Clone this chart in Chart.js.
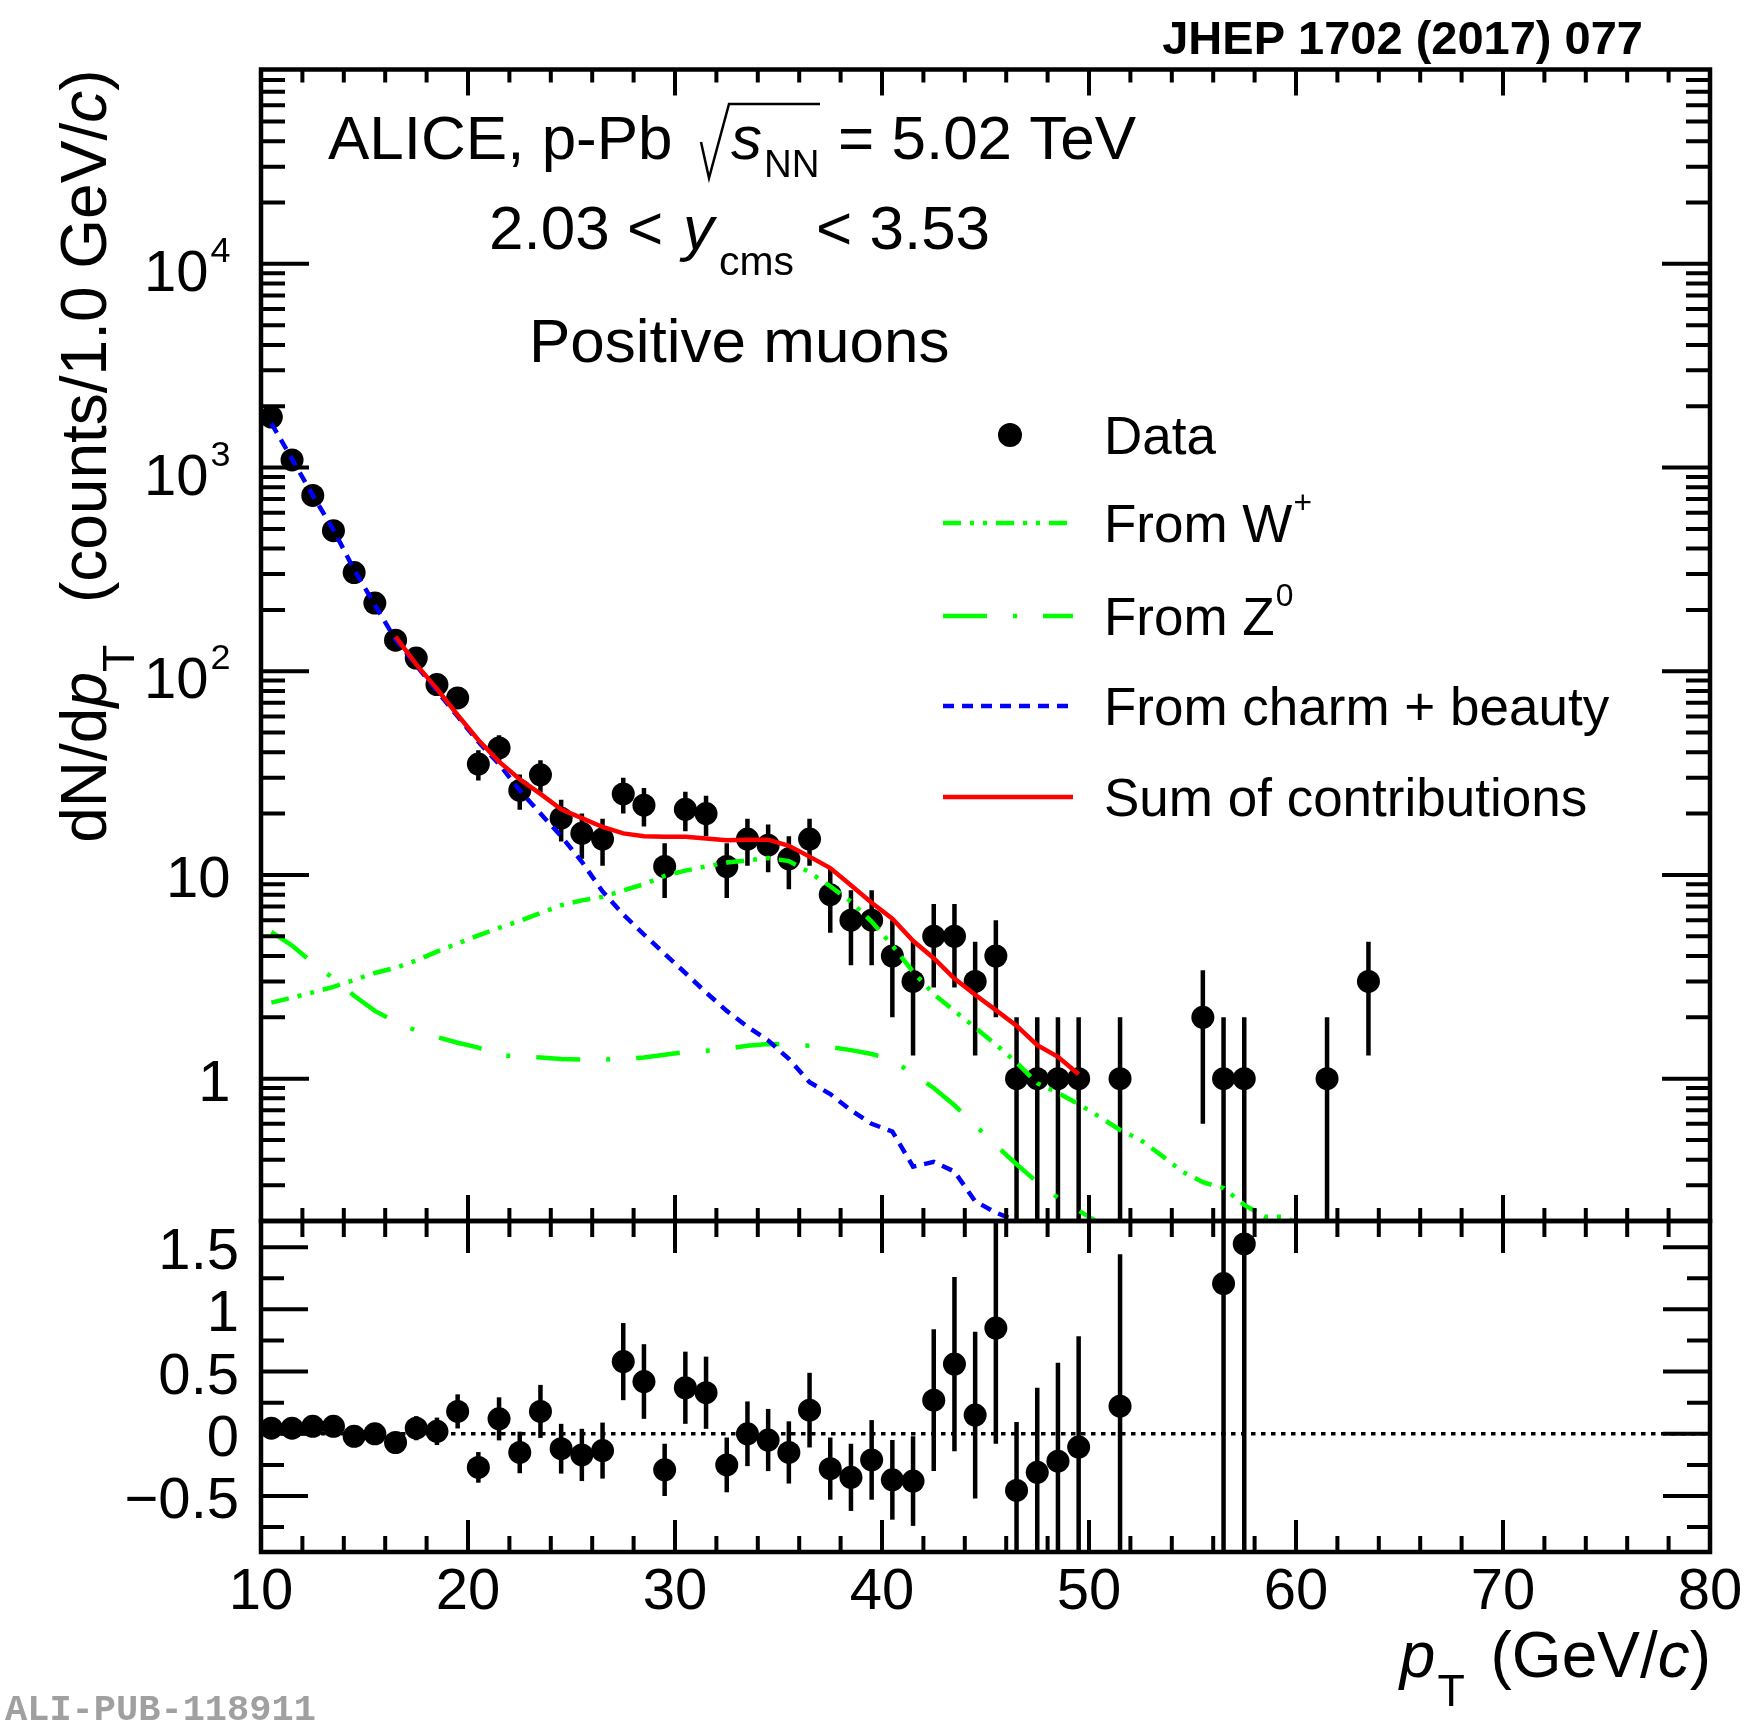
<!DOCTYPE html>
<html>
<head>
<meta charset="utf-8">
<title>Positive muons p-Pb</title>
<script src="https://cdn.jsdelivr.net/npm/chart.js@4.4.1/dist/chart.umd.min.js"></script>
<style>
  html, body { margin: 0; padding: 0; background: #fff; }
  #page { position: relative; width: 1757px; height: 1727px; background: #fff; }
  #page canvas { position: absolute; left: 0; top: 0; }
</style>
</head>
<body>
<div id="page">
  <canvas id="spectrum" width="1757" height="1727"></canvas>
  <canvas id="ratio" width="1757" height="1727"></canvas>
</div>
<script>
// ---------- DATA ----------

// measured spectrum (bin centres, counts, stat. errors)
var dataPt = [10.5, 11.5, 12.5, 13.5, 14.5, 15.5, 16.5, 17.5, 18.5, 19.5,
  20.5, 21.5, 22.5, 23.5, 24.5, 25.5, 26.5, 27.5, 28.5, 29.5,
  30.5, 31.5, 32.5, 33.5, 34.5, 35.5, 36.5, 37.5, 38.5, 39.5,
  40.5, 41.5, 42.5, 43.5, 44.5, 45.5, 46.5, 47.5, 48.5, 49.5,
  51.5, 55.5, 56.5, 57.5, 61.5, 63.5];
var dataCounts = [1770, 1090, 730, 490, 305, 216, 142, 116, 86, 74,
  35, 42, 26, 31, 19, 16, 15, 25, 22, 11,
  21, 20, 11, 15, 14, 12, 15, 8, 6, 6,
  4, 3, 5, 5, 3, 4, 1, 1, 1, 1,
  1, 2, 1, 1, 1, 3];
var dataErr = [42, 33, 27, 22, 17.5, 14.7, 11.9, 10.8, 9.3, 8.6,
  5.9, 6.5, 5.1, 5.6, 4.4, 4, 3.9, 5, 4.7, 3.3,
  4.6, 4.5, 3.3, 3.9, 3.7, 3.5, 3.9, 2.8, 2.4, 2.4,
  2, 1.7, 2.2, 2.2, 1.7, 2, 1, 1, 1, 1,
  1, 1.4, 1, 1, 1, 1.7];

// contributions
var wPt = [10.5, 11.5, 12.5, 13.5, 14.5, 15.5, 16.5, 17.5, 18.5, 19.5,
  20.5, 21.5, 22.5, 23.5, 24.5, 25.5, 26.5, 27.5, 28.5, 29.5,
  30.5, 31.5, 32.5, 33.5, 34.5, 35.5, 36.5, 37.5, 38.5, 39.5,
  40.5, 41.5, 42.5, 43.5, 44.5, 45.5, 46.5, 47.5, 48.5, 49.5,
  50.5, 51.5, 52.5, 53.5, 54.5, 55.5, 56.5, 57.5, 58.5, 59.5, 60.5];
var wVal = [2.36, 2.5, 2.65, 2.82, 3.05, 3.3, 3.5, 3.8, 4.2, 4.6,
  5.05, 5.5, 5.95, 6.5, 7.1, 7.5, 7.8, 8.4, 9.0, 9.9,
  10.5, 11.0, 11.5, 11.8, 12.1, 11.7, 10.3, 8.8, 7.4, 5.9,
  4.5, 3.35, 2.6, 2.15, 1.78, 1.47, 1.2, 0.95, 0.85, 0.75,
  0.65, 0.56, 0.5, 0.42, 0.35, 0.31, 0.29, 0.24, 0.21, 0.21, 0.18];

var zPt = [10.5, 11.5, 12.5, 13.5, 14.5, 15.5, 16.5, 17.5, 18.5, 19.5,
  20.5, 21.5, 22.5, 23.5, 24.5, 25.5, 26.5, 27.5, 28.5, 29.5,
  30.5, 31.5, 32.5, 33.5, 34.5, 35.5, 36.5, 37.5, 38.5, 39.5,
  40.5, 41.5, 42.5, 43.5, 44.5, 45.5, 46.5, 47.5, 48.5, 49.5, 50.5];
var zVal = [5.25, 4.5, 3.7, 3.1, 2.55, 2.15, 1.9, 1.72, 1.6, 1.5,
  1.42, 1.3, 1.29, 1.27, 1.25, 1.24, 1.24, 1.25, 1.27, 1.31,
  1.35, 1.37, 1.4, 1.45, 1.48, 1.47, 1.45, 1.43, 1.38, 1.32,
  1.24, 1.05, 0.9, 0.74, 0.59, 0.47, 0.38, 0.31, 0.26, 0.225, 0.195];

var hfPt = [10.5, 11.5, 12.5, 13.5, 14.5, 15.5, 16.5, 17.5, 18.5, 19.5,
  20.5, 21.5, 22.5, 23.5, 24.5, 25.5, 26.5, 27.5, 28.5, 29.5,
  30.5, 31.5, 32.5, 33.5, 34.5, 35.5, 36.5, 37.5, 38.5, 39.5,
  40.5, 41.5, 42.5, 43.5, 44.5, 45.5, 46.5, 47.5];
var hfVal = [1650, 1100, 730, 495, 315, 212, 143, 107, 80, 60,
  45, 35, 26, 20, 15.5, 11.6, 8.3, 6.4, 5.1, 4.1,
  3.3, 2.65, 2.15, 1.8, 1.54, 1.25, 0.96, 0.84, 0.70, 0.60,
  0.55, 0.37, 0.39, 0.35, 0.25, 0.22, 0.2, 0.17];

var sumPt = [16.5, 17.5, 18.5, 19.5, 20.5, 21.5, 22.5, 23.5, 24.5, 25.5,
  26.5, 27.5, 28.5, 29.5, 30.5, 31.5, 32.5, 33.5, 34.5, 35.5,
  36.5, 37.5, 38.5, 39.5, 40.5, 41.5, 42.5, 43.5, 44.5, 45.5,
  46.5, 47.5, 48.5, 49.5];
var sumVal = [148, 108, 82, 61, 46, 36, 29.5, 25, 21, 19,
  17.2, 16, 15.5, 15.4, 15.4, 15.1, 14.8, 14.9, 14.9, 13.9,
  12.3, 10.8, 8.9, 7.3, 6.1, 4.75, 3.9, 3.1, 2.58, 2.17,
  1.82, 1.46, 1.28, 1.05];

// (data - fit) / fit
var ratioPt = [10.5, 11.5, 12.5, 13.5, 14.5, 15.5, 16.5, 17.5, 18.5, 19.5,
  20.5, 21.5, 22.5, 23.5, 24.5, 25.5, 26.5, 27.5, 28.5, 29.5,
  30.5, 31.5, 32.5, 33.5, 34.5, 35.5, 36.5, 37.5, 38.5, 39.5,
  40.5, 41.5, 42.5, 43.5, 44.5, 45.5, 46.5, 47.5, 48.5, 49.5,
  51.5, 56.5, 57.5];
var ratioVal = [0.045, 0.045, 0.06, 0.06, -0.02, 0.0, -0.07, 0.045, 0.02, 0.18,
  -0.27, 0.12, -0.15, 0.18, -0.12, -0.17, -0.135, 0.58, 0.42, -0.29,
  0.37, 0.33, -0.25, 0.0, -0.05, -0.15, 0.19, -0.28, -0.35, -0.21,
  -0.37, -0.38, 0.27, 0.56, 0.15, 0.85, -0.455, -0.31, -0.22, -0.107,
  0.222, 1.207, 1.526];
var ratioErr = [0.025, 0.03, 0.04, 0.047, 0.056, 0.068, 0.079, 0.097, 0.11, 0.137,
  0.123, 0.173, 0.167, 0.213, 0.2, 0.21, 0.225, 0.31, 0.30, 0.21,
  0.29, 0.29, 0.22, 0.26, 0.25, 0.25, 0.30, 0.25, 0.27, 0.32,
  0.32, 0.36, 0.57, 0.70, 0.67, 0.93, 0.55, 0.68, 0.79, 0.89,
  1.22, 2.2, 2.5];

// axes
var xMajor = [10, 20, 30, 40, 50, 60, 70, 80];
var xLabels = ['10', '20', '30', '40', '50', '60', '70', '80'];
var yMajorTop = [1, 10, 100, 1000, 10000];
var yLabelTop = [['1', ''], ['10', ''], ['10', '2'], ['10', '3'], ['10', '4']];
var yMajorBot = [-0.5, 0, 0.5, 1, 1.5];
var yLabelBot = ['\u22120.5', '0', '0.5', '1', '1.5'];
var yMinorBot = [-0.75, -0.25, 0.25, 0.75, 1.25];


// ---------- HELPERS ----------

var FONT = '"Liberation Sans", Arial, Helvetica, sans-serif';
var GREEN = '#00ff00', BLUE = '#0000ff', RED = '#ff0000';
var DASH_W = [18, 9, 4, 9, 4, 9];
var DASH_Z = [44, 26, 4, 26];
var DASH_HF = [11, 8];
var CURVE_W = 4.5;

function pts(xs, ys) {
  return xs.map(function (x, i) { return { x: x, y: ys[i] }; });
}

function fontFor(p, size) {
  var s = size * (p.s || 1);
  return (p.b ? 'bold ' : '') + (p.i ? 'italic ' : '') + s + 'px ' + FONT;
}

function richWidth(ctx, parts, size) {
  var w = 0;
  parts.forEach(function (p) {
    ctx.font = fontFor(p, size);
    w += (p.gap || 0) + ctx.measureText(p.t).width;
  });
  return w;
}

// draws a run of text pieces (italic, sub/superscripts) along one baseline
function richText(ctx, parts, x, y, size, align) {
  var cx = align === 'right' ? x - richWidth(ctx, parts, size) : x;
  ctx.textAlign = 'left';
  ctx.textBaseline = 'alphabetic';
  parts.forEach(function (p) {
    ctx.font = fontFor(p, size);
    cx += p.gap || 0;
    ctx.fillText(p.t, cx, y + (p.dy || 0));
    cx += ctx.measureText(p.t).width;
  });
}

function drawFrame(chart, cfg) {
  var ctx = chart.ctx, a = chart.chartArea;
  var xs = chart.scales.x, ys = chart.scales.y;
  ctx.save();
  ctx.strokeStyle = '#000';
  ctx.lineWidth = 4;
  ctx.beginPath();
  for (var v = 12; v < 80; v += 2) {
    var px = xs.getPixelForValue(v);
    var len = (v % 10 === 0) ? cfg.xMajorLen : cfg.xMajorLen / 2;
    ctx.moveTo(px, a.bottom); ctx.lineTo(px, a.bottom - len);
    ctx.moveTo(px, a.top); ctx.lineTo(px, a.top + len);
  }
  function yTick(val, len) {
    var py = ys.getPixelForValue(val);
    ctx.moveTo(a.left, py); ctx.lineTo(a.left + len, py);
    ctx.moveTo(a.right, py); ctx.lineTo(a.right - len, py);
  }
  cfg.yMajor.forEach(function (val) { yTick(val, cfg.yMajorLen); });
  cfg.yMinor.forEach(function (val) { yTick(val, cfg.yMinorLen); });
  ctx.stroke();
  ctx.lineWidth = 4.5;
  ctx.strokeRect(a.left, a.top, a.right - a.left, a.bottom - a.top);
  ctx.restore();
}

// vertical error bars, drawn under the markers
var errorBars = {
  id: 'errorBars',
  beforeDatasetsDraw: function (chart) {
    var ctx = chart.ctx, a = chart.chartArea;
    var xs = chart.scales.x, ys = chart.scales.y;
    ctx.save();
    ctx.beginPath();
    ctx.rect(a.left, a.top, a.right - a.left, a.bottom - a.top);
    ctx.clip();
    ctx.strokeStyle = '#000';
    ctx.lineWidth = 4.5;
    chart.data.datasets.forEach(function (ds) {
      if (!ds.errors) return;
      ds.data.forEach(function (p, i) {
        var e = ds.errors[i];
        var px = xs.getPixelForValue(p.x);
        var yHi = ys.getPixelForValue(p.y + e);
        var lo = p.y - e;
        var yLo = (ys.type === 'logarithmic' && lo <= 0) ? a.bottom + 20 : ys.getPixelForValue(lo);
        ctx.beginPath();
        ctx.moveTo(px, yLo);
        ctx.lineTo(px, yHi);
        ctx.stroke();
      });
    });
    ctx.restore();
  }
};


// ---------- UPPER PAD: SPECTRUM ----------

var yMinorTop = [];
for (var n = -1; n <= 4; n++) {
  for (var k = 2; k <= 9; k++) {
    var mv = k * Math.pow(10, n);
    if (mv > 0.2 && mv < 9e4) yMinorTop.push(mv);
  }
}

var spectrumDecor = {
  id: 'spectrumDecor',
  afterDraw: function (chart) {
    var ctx = chart.ctx, ys = chart.scales.y;
    drawFrame(chart, { xMajorLen: 26, yMajor: yMajorTop, yMinor: yMinorTop, yMajorLen: 48, yMinorLen: 24 });

    ctx.save();
    ctx.fillStyle = '#000';

    // y tick labels
    yMajorTop.forEach(function (v, i) {
      var py = ys.getPixelForValue(v);
      var lab = yLabelTop[i];
      if (lab[1]) {
        richText(ctx, [{ t: lab[0] }, { t: lab[1], s: 0.62, dy: -29, gap: 2 }], 230.5, py + 27, 58, 'right');
      } else {
        richText(ctx, [{ t: lab[0] }], 230.5, py + 22, 58, 'right');
      }
    });

    // y axis title (rotated)
    ctx.save();
    ctx.translate(106, 69.5);
    ctx.rotate(-Math.PI / 2);
    richText(ctx, [
      { t: 'dN/d' }, { t: 'p', i: true }, { t: 'T', s: 0.7, dy: 28 },
      { t: '  (counts/1.0 GeV/', gap: 6 }, { t: 'c', i: true }, { t: ')' }
    ], 0, 0, 64, 'right');
    ctx.restore();

    // JHEP reference
    ctx.font = 'bold 47px ' + FONT;
    ctx.textAlign = 'right';
    ctx.fillText('JHEP 1702 (2017) 077', 1643, 54);

    // system / kinematics text
    richText(ctx, [{ t: 'ALICE, p-Pb' }], 328, 159, 62);
    ctx.lineWidth = 2.5;
    ctx.strokeStyle = '#000';
    ctx.beginPath();
    ctx.moveTo(701, 142);
    ctx.lineTo(709, 178);
    ctx.lineTo(729, 104);
    ctx.lineTo(820, 104);
    ctx.stroke();
    richText(ctx, [{ t: 's', i: true }], 731, 159, 62);
    richText(ctx, [{ t: 'NN', s: 0.62 }], 764, 177, 62);
    richText(ctx, [{ t: '= 5.02 TeV' }], 838, 159, 62);

    richText(ctx, [{ t: '2.03 <' }], 489, 249, 62);
    richText(ctx, [{ t: 'y', i: true }], 683, 249, 62);
    richText(ctx, [{ t: 'cms', s: 0.66 }], 719, 275, 62);
    richText(ctx, [{ t: '< 3.53' }], 816, 249, 62);

    richText(ctx, [{ t: 'Positive muons' }], 529, 362, 62);

    // legend
    var lx0 = 943, lx1 = 1073, tx = 1104;
    ctx.beginPath();
    ctx.arc(1010, 435, 12, 0, Math.PI * 2);
    ctx.fill();
    richText(ctx, [{ t: 'Data' }], tx, 454, 53);

    var rows = [
      { y: 523, c: GREEN, d: DASH_W, parts: [{ t: 'From W' }, { t: '+', s: 0.6, dy: -29, gap: 1 }] },
      { y: 616, c: GREEN, d: DASH_Z, parts: [{ t: 'From Z' }, { t: '0', s: 0.6, dy: -29, gap: 1 }] },
      { y: 706, c: BLUE, d: DASH_HF, parts: [{ t: 'From charm + beauty' }] },
      { y: 797, c: RED, d: [], parts: [{ t: 'Sum of contributions' }] }
    ];
    rows.forEach(function (r) {
      ctx.save();
      ctx.strokeStyle = r.c;
      ctx.lineWidth = CURVE_W;
      ctx.setLineDash(r.d);
      ctx.beginPath();
      ctx.moveTo(lx0, r.y);
      ctx.lineTo(lx1, r.y);
      ctx.stroke();
      ctx.restore();
      richText(ctx, r.parts, tx, r.y + 19, 53);
    });

    ctx.restore();
  }
};

var lineStyle = function (label, xs, ys, color, dash, order) {
  return {
    label: label,
    data: pts(xs, ys),
    showLine: true,
    borderColor: color,
    borderWidth: CURVE_W,
    borderDash: dash,
    pointRadius: 0,
    tension: 0,
    fill: false,
    order: order
  };
};

new Chart(document.getElementById('spectrum'), {
  type: 'scatter',
  data: {
    datasets: [
      lineStyle('Sum of contributions', sumPt, sumVal, RED, [], 1),
      lineStyle('From charm + beauty', hfPt, hfVal, BLUE, DASH_HF, 2),
      lineStyle('From Z0', zPt, zVal, GREEN, DASH_Z, 3),
      lineStyle('From W+', wPt, wVal, GREEN, DASH_W, 4),
      {
        label: 'Data',
        data: pts(dataPt, dataCounts),
        errors: dataErr,
        pointRadius: 11.5,
        pointBackgroundColor: '#000',
        pointBorderWidth: 0,
        showLine: false,
        order: 10
      }
    ]
  },
  options: {
    responsive: false,
    animation: false,
    events: [],
    devicePixelRatio: 1,
    layout: { padding: { left: 261, right: 47, top: 69.5, bottom: 506 } },
    plugins: { legend: { display: false }, tooltip: { enabled: false } },
    scales: {
      x: { type: 'linear', min: 10, max: 80, display: false },
      y: { type: 'logarithmic', min: 0.2, max: 9e4, display: false }
    }
  },
  plugins: [errorBars, spectrumDecor]
});


// ---------- LOWER PAD: RATIO ----------

var ratioDecor = {
  id: 'ratioDecor',
  afterDraw: function (chart) {
    var ctx = chart.ctx, ys = chart.scales.y, xs = chart.scales.x;
    drawFrame(chart, { xMajorLen: 32, yMajor: yMajorBot, yMinor: yMinorBot, yMajorLen: 47, yMinorLen: 23 });

    ctx.save();
    ctx.fillStyle = '#000';
    yMajorBot.forEach(function (v, i) {
      richText(ctx, [{ t: yLabelBot[i] }], 239, ys.getPixelForValue(v) + 22, 58, 'right');
    });

    ctx.font = '58px ' + FONT;
    ctx.textAlign = 'center';
    ctx.textBaseline = 'alphabetic';
    xMajor.forEach(function (v, i) {
      ctx.fillText(xLabels[i], xs.getPixelForValue(v), 1609);
    });

    richText(ctx, [
      { t: 'p', i: true }, { t: 'T', s: 0.7, dy: 29, gap: 2 },
      { t: ' (GeV/', gap: 8 }, { t: 'c', i: true }, { t: ')' }
    ], 1711, 1677, 64, 'right');

    ctx.font = 'bold 37px "Liberation Mono", "DejaVu Sans Mono", monospace';
    ctx.fillStyle = '#a0a0a0';
    ctx.textAlign = 'left';
    ctx.fillText('ALI-PUB-118911', 5, 1720);
    ctx.restore();
  }
};

new Chart(document.getElementById('ratio'), {
  type: 'scatter',
  data: {
    datasets: [
      {
        label: 'zero',
        data: [{ x: 10, y: 0 }, { x: 80, y: 0 }],
        showLine: true,
        borderColor: '#000',
        borderWidth: 3.5,
        borderDash: [4.5, 5.5],
        pointRadius: 0,
        order: 5
      },
      {
        label: 'Ratio',
        data: pts(ratioPt, ratioVal),
        errors: ratioErr,
        pointRadius: 11.5,
        pointBackgroundColor: '#000',
        pointBorderWidth: 0,
        showLine: false,
        order: 1
      }
    ]
  },
  options: {
    responsive: false,
    animation: false,
    events: [],
    devicePixelRatio: 1,
    layout: { padding: { left: 261, right: 47, top: 1221, bottom: 175 } },
    plugins: { legend: { display: false }, tooltip: { enabled: false } },
    scales: {
      x: { type: 'linear', min: 10, max: 80, display: false },
      y: { type: 'linear', min: -0.95, max: 1.71, display: false }
    }
  },
  plugins: [errorBars, ratioDecor]
});
</script>
</body>
</html>
